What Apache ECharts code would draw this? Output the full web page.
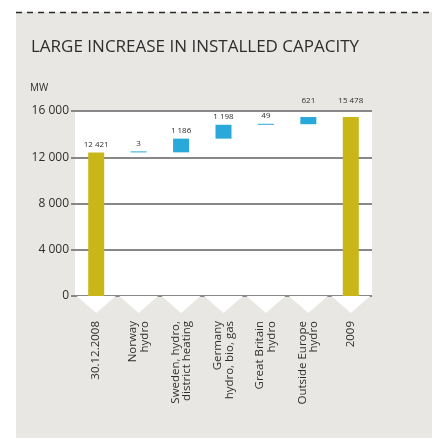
<!DOCTYPE html>
<html>
<head>
<meta charset="utf-8">
<script src="https://cdn.jsdelivr.net/npm/echarts@6/dist/echarts.min.js"></script>
<style>
  html, body { margin: 0; padding: 0; background: #ffffff; }
  #chart { width: 432px; height: 439px; }
</style>
</head>
<body>
<div id="chart"></div>
<script>
// Installed capacity bridge, MW
const categories = [
  '30.12.2008',
  'Norway\nhydro',
  'Sweden, hydro,\ndistrict heating',
  'Germany\nhydro, bio, gas',
  'Great Britain\nhydro',
  'Outside Europe\nhydro',
  '2009'
];
const values = [12421, 3, 1186, 1198, 49, 621, 15478];
const isTotal = [true, false, false, false, false, false, true];
const yTicks = [0, 4000, 8000, 12000, 16000];

const TOTAL_COLOR = '#c9b619';
const STEP_COLOR = '#29a9d9';
const TEXT = '#2e2e2e';
const FONT = 'Open Sans';

// start and end level of every bar in the bridge
const starts = [];
const ends = [];
let running = 0;
values.forEach((v, i) => {
  if (isTotal[i]) { starts.push(0); ends.push(v); running = v; }
  else { starts.push(running); running += v; ends.push(running); }
});

function fmt(n) {
  return String(n).replace(/\B(?=(\d{3})+(?!\d))/g, ' ');
}

const chart = echarts.init(document.getElementById('chart'), null, { renderer: 'canvas' });

chart.setOption({
  animation: false,
  backgroundColor: '#ffffff',
  graphic: [
    { type: 'rect', z: -10, shape: { x: 16, y: 12, width: 416, height: 426 }, style: { fill: '#e8e7e3' } },
    { type: 'line', shape: { x1: 16, y1: 12.5, x2: 432, y2: 12.5 },
      style: { stroke: '#2a2a2a', lineWidth: 1.5, lineDash: [6, 5] } },
    { type: 'text', left: 31, top: 39,
      style: { text: 'LARGE INCREASE IN INSTALLED CAPACITY', fill: TEXT, font: '17px "' + FONT + '"' } },
    { type: 'text', left: 30, top: 83,
      style: { text: 'MW', fill: TEXT, font: '10px "' + FONT + '"' } }
  ],
  grid: {
    left: 75, right: 60, top: 111, bottom: 143,
    show: true, backgroundColor: '#ffffff', borderWidth: 0
  },
  xAxis: {
    type: 'category',
    data: categories,
    axisLine: { show: false },
    axisTick: { show: false },
    splitLine: { show: false },
    axisLabel: {
      rotate: 90, margin: 25, interval: 0,
      color: TEXT, fontFamily: FONT, fontSize: 11.5, lineHeight: 11.5
    }
  },
  yAxis: {
    type: 'value',
    min: 0, max: 16000, interval: 4000,
    axisLine: { show: false },
    axisTick: { show: true, length: 4, lineStyle: { color: '#888888', width: 2 } },
    splitLine: { lineStyle: { color: '#888888', width: 2 } },
    axisLabel: {
      margin: 6, color: TEXT, fontFamily: FONT, fontSize: 12,
      formatter: v => (yTicks.includes(v) ? fmt(v) : '')
    }
  },
  series: [
    {
      // white notch under each category
      type: 'custom',
      silent: true,
      clip: false,
      z: 1,
      data: categories.map((c, i) => [i, 0]),
      renderItem: function (params, api) {
        const p = api.coord([api.value(0), 0]);
        const hw = api.size([1, 0])[0] * 0.46;
        return {
          type: 'polygon',
          shape: { points: [[p[0] - hw, p[1]], [p[0] + hw, p[1]], [p[0], p[1] + 17]] },
          style: { fill: '#ffffff' }
        };
      }
    },
    {
      // bridge bars: each spans from its start level to its end level
      type: 'custom',
      z: 3,
      clip: false,
      data: values.map((v, i) => [i, starts[i], ends[i], v]),
      renderItem: function (params, api) {
        const i = api.value(0);
        const top = api.coord([i, api.value(2)]);
        const bottom = api.coord([i, api.value(1)]);
        const w = 16;
        const h = Math.max(bottom[1] - top[1], 1);
        const total = isTotal[params.dataIndex];
        const dist = api.value(2) > 15000 ? 12 : 4;
        return {
          type: 'group',
          children: [
            {
              type: 'rect',
              shape: { x: top[0] - w / 2, y: bottom[1] - h, width: w, height: h },
              style: { fill: total ? TOTAL_COLOR : STEP_COLOR }
            },
            {
              type: 'text',
              x: top[0], y: bottom[1] - h - dist,
              style: {
                text: fmt(api.value(3)), fill: TEXT,
                font: '8px "' + FONT + '"', align: 'center', verticalAlign: 'bottom'
              }
            }
          ]
        };
      }
    }
  ]
});
</script>
</body>
</html>
